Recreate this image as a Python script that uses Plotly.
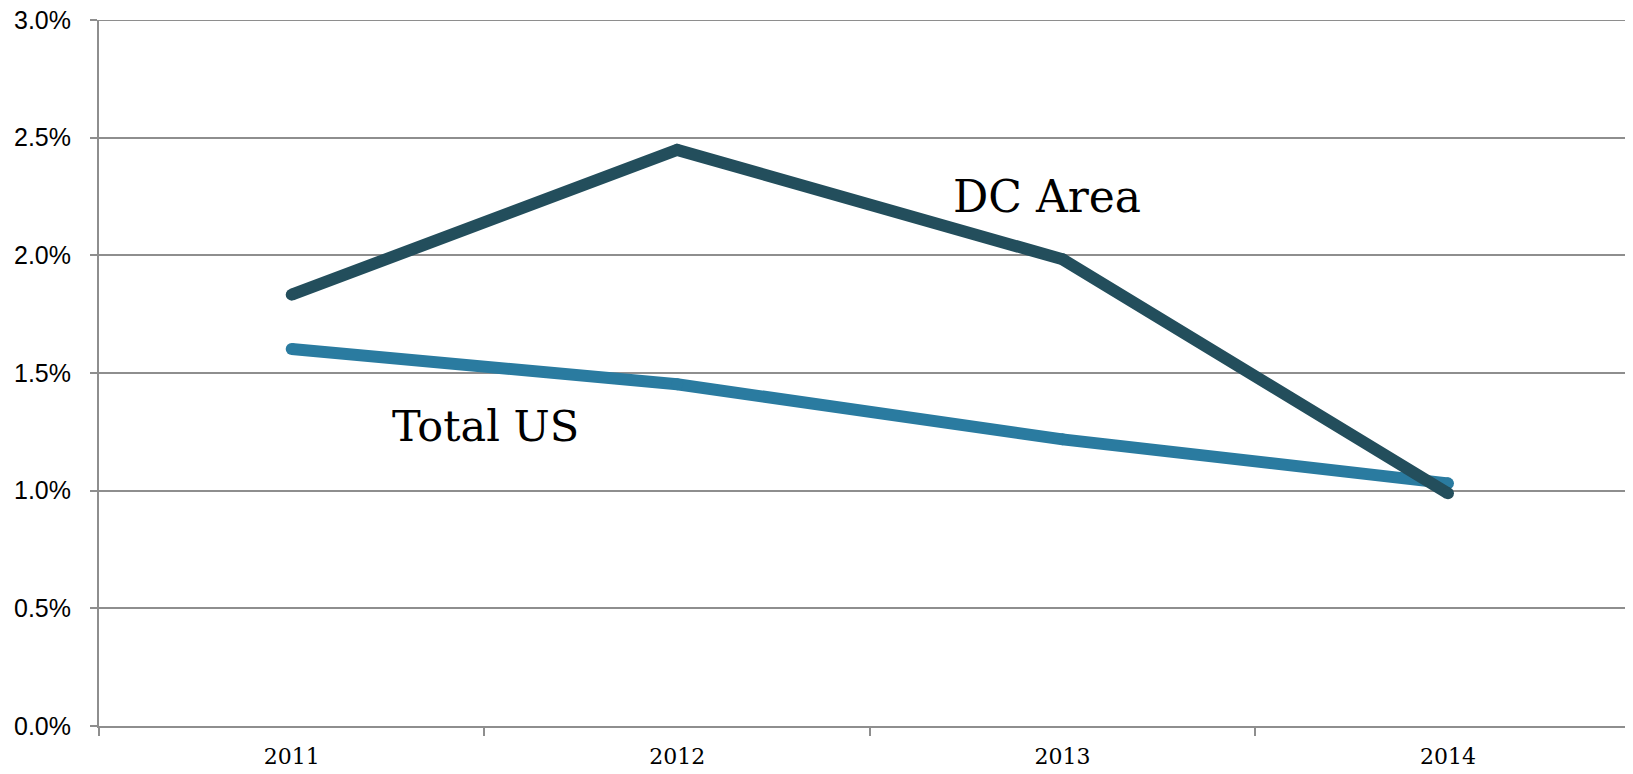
import plotly.graph_objects as go

years = ["2011", "2012", "2013", "2014"]
dc_area = [0.01833, 0.02448, 0.01983, 0.00989]
total_us = [0.01602, 0.01452, 0.01218, 0.01031]
y_ticks = [0, 0.005, 0.01, 0.015, 0.02, 0.025, 0.03]

GRID = "#8e8e8e"

fig = go.Figure()
fig.add_trace(go.Scatter(x=years, y=total_us, mode="lines+markers", name="Total US",
                         line=dict(color="#2a7ba0", width=12),
                         marker=dict(size=12, color="#2a7ba0")))
fig.add_trace(go.Scatter(x=years, y=dc_area, mode="lines+markers", name="DC Area",
                         line=dict(color="#234e5c", width=12),
                         marker=dict(size=12, color="#234e5c")))

fig.add_annotation(x=1.96, y=0.0225, text="DC Area", showarrow=False,
                   font=dict(family="DejaVu Serif", size=44, color="black"))
fig.add_annotation(x=0.503, y=0.01275, text="Total US", showarrow=False,
                   font=dict(family="DejaVu Serif", size=43, color="black"))

# top gridline at 3.0%
fig.add_shape(type="line", xref="paper", yref="y", x0=0, x1=1, y0=0.03, y1=0.03,
              line=dict(color=GRID, width=2), layer="below")

fig.update_layout(
    width=1633, height=774,
    margin=dict(l=91, r=8, t=12, b=56, autoexpand=False),
    plot_bgcolor="white", paper_bgcolor="white",
    showlegend=False,
    xaxis=dict(type="category", range=[-0.5, 3.48], showgrid=False, automargin=False,
               showline=True, linecolor=GRID, linewidth=2,
               ticks="outside", tickson="boundaries", ticklen=8, tickwidth=2, tickcolor=GRID,
               tickfont=dict(family="DejaVu Serif", size=22, color="black"),
               ticklabelstandoff=10),
    yaxis=dict(range=[0, 0.03], tickvals=y_ticks, tickformat=".1%", automargin=False,
               showgrid=True, gridcolor=GRID, gridwidth=2,
               showline=True, linecolor=GRID, linewidth=2, zeroline=False,
               ticks="outside", ticklen=7, tickwidth=2, tickcolor=GRID,
               tickfont=dict(family="Liberation Sans", size=25, color="black"),
               ticklabelstandoff=14, ticklabeloverflow="allow"),
)

fig.write_html("out.html")
